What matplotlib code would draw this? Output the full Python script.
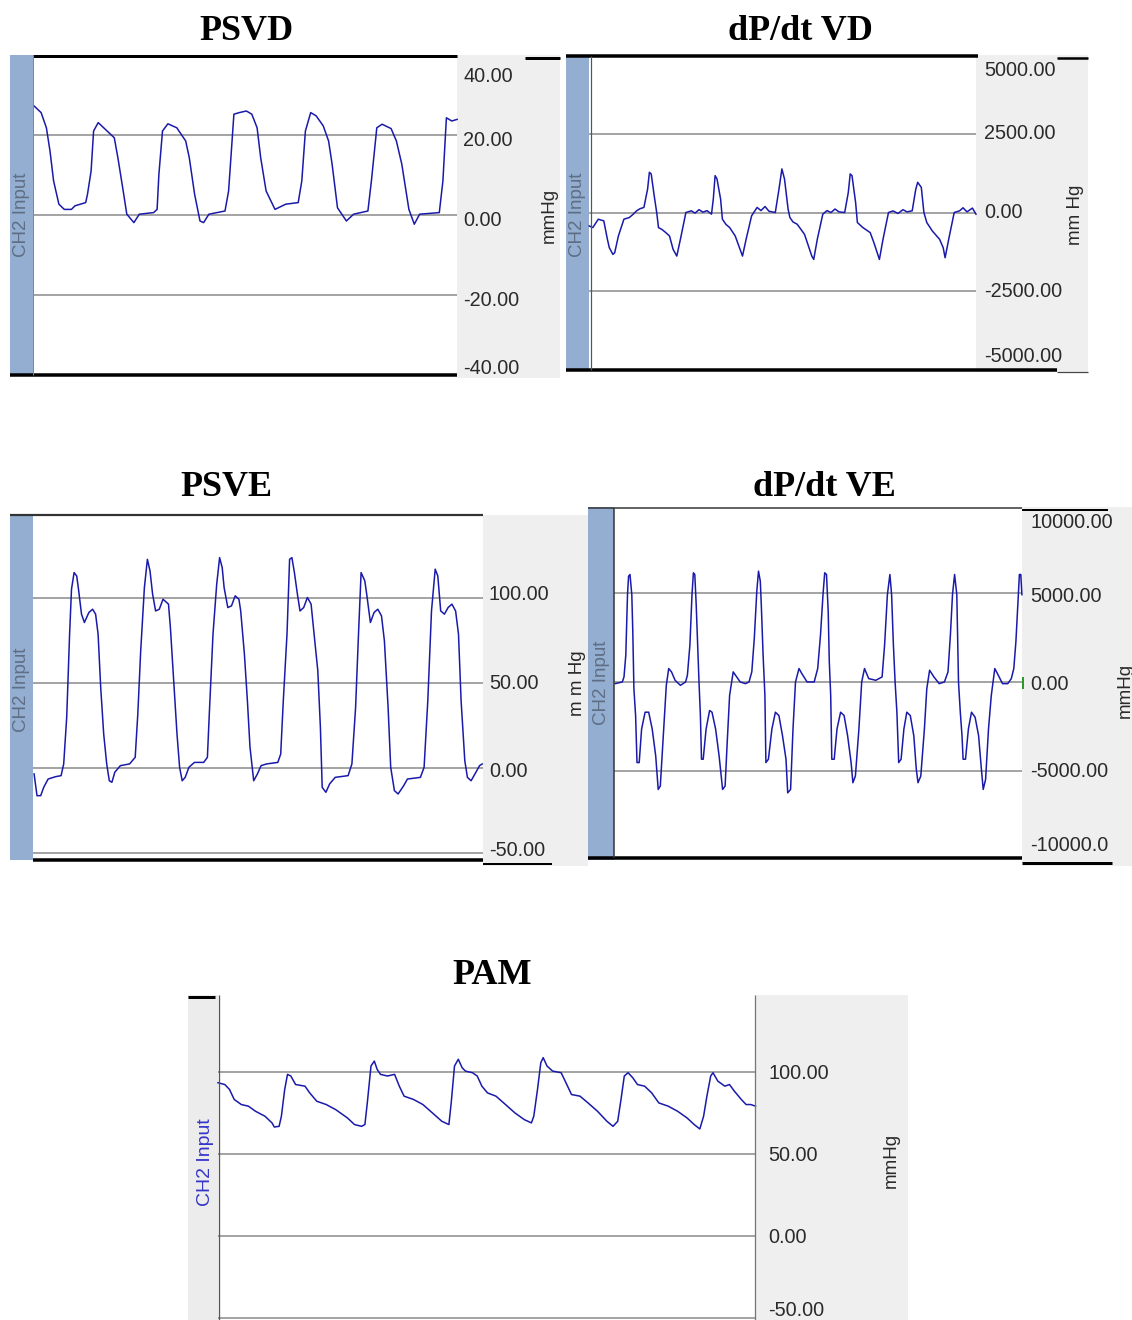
import numpy as np
import matplotlib
matplotlib.use('Agg')
import matplotlib.pyplot as plt
from matplotlib.patches import Rectangle
from matplotlib.lines import Line2D
from matplotlib import transforms as mtransforms

# ---------------- DATA ----------------
panel_titles = ["PSVD", "dP/dt VD", "PSVE", "dP/dt VE", "PAM"]
channel_label = "CH2 Input"

# PSVD (mmHg), time in samples
t_psvd = [0.9, 8.1, 13.4, 17, 20.6, 25.9, 31.3, 38.4, 42, 52.7, 54.5, 58.1, 60.6, 65.2, 74.1, 81.3, 84.9,
          90.2, 93.8, 100.9, 106.3, 120.6, 124.1, 125.9, 129.5, 134.9, 143.8, 152.7, 156.3, 161.6, 167,
          170.6, 175.9, 192, 195.6, 200.9, 206.3, 213.4, 218.8, 224.1, 227.7, 233.1, 242, 252.7, 265.2,
          268.8, 272.4, 277.7, 283.1, 290.2, 295.6, 299.1, 304.5, 313.4, 320.6, 334.9, 338.4, 343.8,
          349.1, 358.1, 363.4, 368.8, 375.9, 381.3, 386.6, 406.3, 409.9, 413.4, 418.8, 424.1]
v_psvd = [27.3, 25.6, 21.8, 16, 8.5, 2.7, 1.4, 1.4, 2.3, 3.1, 5.2, 11, 21, 23.1, 21, 19.3, 14.3,
          6, 0.2, -1.9, 0.2, 0.6, 1.4, 10.2, 21, 22.8, 21.8, 18.5, 14.3, 5.2, -1.5,
          -1.9, 0.2, 1, 6, 25.2, 25.6, 26, 25.2, 21.8, 14.3, 6, 1.4, 2.7, 3.1,
          8.5, 21, 25.6, 24.8, 22.3, 18.5, 12.7, 1.8, -1.5, 0.2, 1, 8.5, 21.8,
          22.7, 21.6, 18.5, 12.7, 1.4, -2.3, 0.2, 0.6, 8.5, 24.3, 23.5, 23.9]
ticks_psvd = [40, 20, 0, -20, -40]
ticklabels_psvd = ["40.00", "20.00", "0.00", "-20.00", "-40.00"]

# dP/dt VD (mmHg/s)
t_dpvd = [0.2, 3.8, 9.3, 14.8, 18.4, 20.3, 23.9, 25.7, 29.4, 34.9, 40.3, 44, 47.6, 51, 54.9, 58.6, 60.4,
          62.2, 65.2, 67.7, 69.5, 73, 76.8, 80.5, 84.1, 87.8, 91.4, 96.9, 102.4, 106, 110, 114, 118,
          122.5, 124.3, 126.1, 128, 131.6, 133.4, 137, 140.7, 146.2, 153.5, 157.1, 162.6, 168.1, 172,
          176, 180, 186.3, 190, 192.9, 195.5, 199.1, 200.9, 204, 208.2, 215.5, 222.8, 224.7, 228.3,
          233.8, 238, 242, 246, 250, 255.7, 259.3, 261.2, 263, 266.6, 268.4, 273.9, 281.2, 284.9,
          290.4, 294, 299.5, 304, 309, 314, 318, 323.2, 326.8, 328.7, 332.3, 334.9, 337.8, 343.3,
          350.6, 354.2, 356.1, 359.7, 365.2, 370.6, 374, 378, 383.4, 387]
v_dpvd = [-426, -479, -213, -266, -851, -1117, -1330, -1277, -745, -213, -160, -60, 53, 120, 160, 745, 1277,
          1224, 532, 0, -479, -540, -638, -745, -1170, -1383, -851, 0, 53, -20, 90, 10, 60,
          -53, 426, 1170, 1064, 426, -213, -380, -479, -745, -1383, -851, -106, 160, 60,
          190, 40, 0, 745, 1383, 1064, 106, -160, -300, -372, -692, -1383, -1490, -851,
          -53, 60, 0, 110, 20, 0, 638, 1224, 1170, 319, -319, -479, -638, -958,
          -1490, -851, 0, 50, -30, 90, 20, 53, 745, 958, 798, 0, -319, -585,
          -851, -1117, -1436, -851, 0, 53, 150, 20, 140, -53]
ticks_dpvd = [5000, 2500, 0, -2500, -5000]
ticklabels_dpvd = ["5000.00", "2500.00", "0.00", "-2500.00", "-5000.00"]

# PSVE (mmHg)
t_psve = [1.1, 4, 7.7, 10.7, 15.1, 22.6, 28.1, 30.7, 33.7, 36.6, 38.5, 41.1, 43.7, 45.5, 48.5, 51.4, 55.9,
          59.6, 62.6, 65.1, 67.7, 70.7, 73.7, 76.3, 78.9, 81.8, 87.4, 96.6, 102.2, 104.8, 107.7, 111.4,
          114.4, 117, 119.6, 122.6, 126.3, 130, 135.5, 137.4, 141.1, 144, 146.6, 149.2, 152.2, 155.9,
          161.4, 170.7, 174.4, 176.3, 180, 183.7, 186.6, 189.2, 191.1, 194.8, 198.5, 202.2, 205.9,
          207.7, 211.4, 214.4, 217, 220.7, 224.4, 228.1, 233.7, 244.8, 247.7, 250.3, 254, 256.6,
          258.9, 261.4, 264.4, 267, 270.7, 274.4, 278.1, 281.1, 284.8, 287.4, 289.2, 292.9, 296.6,
          302.2, 315.1, 318.9, 322.6, 325.5, 328.1, 331.8, 333.7, 337.4, 341.1, 344.8, 348.5, 351.4,
          355.1, 357.7, 361.4, 365.1, 370.7, 374.4, 387.4, 391.1, 394.8, 398.5, 402.2, 404.8, 407.7,
          411.4, 415.1, 418.9, 422.6, 425.5, 428.1, 431.8, 434.4, 438.1, 442.9, 446.6, 449.2]
v_psve = [-3.5, -16.3, -16.3, -11.4, -6.5, -5.1, -4.5, 2.4, 29.8, 78.8, 105.3, 115.1, 113.1, 105.3, 90.6, 85.7, 91.6,
          93.5, 90.6, 78.8, 47.5, 20, 2.4, -7.5, -8.4, -2.5, 1.4, 2.4, 6.3, 31.8, 69, 106.3,
          122.9, 116.1, 102.4, 92.5, 93.5, 99.4, 96.5, 82.7, 47.5, 20, 0.4, -7.5, -5.5, 0.4,
          3.3, 3.3, 6.3, 31.8, 78.8, 108.2, 123.9, 118, 106.3, 94.5, 95.5, 101.4, 99.4,
          92.5, 67.1, 39.6, 12.2, -7.5, -3.5, 1.4, 2.4, 3.3, 8.2, 39.6, 78.8, 122.9,
          123.9, 115.1, 102.4, 92.5, 94.5, 100.4, 96.5, 78.8, 57.3, 23.9, -11.4, -14.3, -9.4,
          -5.5, -4.5, 2.4, 35.7, 78.8, 115.1, 110.2, 102.4, 85.7, 91.6, 93.5, 89.6, 74.9,
          35.7, 0.4, -13.3, -15.3, -10.4, -6.5, -5.5, 0.4, 39.6, 92.5, 117.1, 113.1, 92.5,
          90.6, 94.5, 96.5, 92.5, 78.8, 39.6, 4.3, -5.5, -7.5, -2.5, 1.4, 2.4]
ticks_psve = [100, 50, 0, -50]
ticklabels_psve = ["100.00", "50.00", "0.00", "-50.00"]

# dP/dt VE (mmHg/s)
t_dpve = [1.2, 8.3, 10, 11.8, 13.5, 14.6, 16, 17.8, 18.8, 19.9, 21.6, 23, 25.2, 27.6, 31.1, 34.7, 38.2,
          41.7, 44.2, 46.3, 48.7, 52.3, 54.7, 57.5, 61.1, 66.4, 71.6, 73.4, 75.9, 78, 79.4, 80.8, 82.2,
          84, 85, 86.4, 87.5, 89.2, 92.1, 95.6, 98, 101.6, 105.1, 108.6, 111.1, 113.2, 115.6, 119.2,
          122.7, 126.2, 131.5, 135, 137.8, 140.3, 142.8, 144.5, 146.3, 147.3, 149.1, 150.9, 151.9,
          154.4, 157.9, 161.4, 164.9, 168.5, 172, 173.7, 176.6, 179, 181.5, 185, 187.8, 193.1, 200.2,
          203.7, 206.5, 209, 210.7, 212.5, 214.2, 215.3, 216.7, 217.8, 220.2, 223, 226.6, 230.1,
          233.6, 237.1, 238.9, 241.4, 244.9, 247.7, 250.5, 254.7, 261.8, 268.1, 270.6, 273.4, 275.9,
          277.6, 279.4, 281.1, 282.9, 284.7, 287.1, 289.9, 292.8, 296.3, 299.8, 302.3, 304, 306.8,
          310.4, 312.8, 315.6, 319.9, 325.2, 330.4, 334, 336.4, 338.5, 340.6, 342.8, 344.5, 346.3,
          348, 349.1, 351.5, 354.4, 357.5, 361.1, 364.6, 367.4, 369.2, 371.6, 374.5, 377.3, 380.8,
          384.3, 388.5, 393.8, 397.3, 399.8, 401.9, 404, 405.4, 406.8, 407.9]
v_dpve = [-94, 0, 283, 1510, 4906, 5944, 6038, 4906, 2830, -377, -1887, -4529, -4529, -2642, -1698, -1698, -2642,
          -4151, -6038, -5850, -3585, -189, 755, 566, 94, -189, 0, 377, 2076, 4906, 6133, 6038, 4340,
          1510, 0, -1887, -4340, -4340, -2642, -1604, -1698, -2642, -4151, -6038, -5850, -3397, -755, 566,
          283, 0, -94, 0, 566, 2453, 5095, 6227, 5661, 4340, 1510, -755, -4529,
          -4340, -2642, -1698, -1887, -3019, -4340, -6227, -6038, -2642, 0, 755, 472, 0, 0,
          755, 2642, 4906, 6133, 6038, 3963, 1132, -755, -4340, -4340, -2642, -1698, -1887,
          -3019, -4529, -5661, -5284, -2642, 0, 755, 189, 94, 283, 2076, 4906, 6038,
          4906, 2076, 0, -1698, -4529, -4340, -2642, -1698, -1887, -3019, -4906, -5661, -5284,
          -2642, -377, 660, 283, -94, 0, 566, 2642, 4906, 6038, 4906, 0, -1698,
          -3019, -4340, -4340, -2642, -1698, -1981, -3019, -4906, -6038, -5472, -2642, -755, 755,
          377, -94, -94, 189, 755, 2264, 4529, 6038, 6038, 4906]
ticks_dpve = [10000, 5000, 0, -5000, -10000]
ticklabels_dpve = ["10000.00", "5000.00", "0.00", "-5000.00", "-10000.0"]

# PAM (mmHg)
t_pam = [0, 6.8, 11.5, 16.2, 23.3, 30.4, 37.5, 46.9, 54, 56.3, 61.1, 63.4, 66.7, 69.5, 72.8, 77.6, 87,
         91.7, 98.8, 108.2, 117.7, 129.5, 136.5, 143.6, 146.9, 149.3, 153, 156.3, 159.2, 162.5, 169.5,
         176.6, 181.3, 186.1, 195.5, 204.9, 214.4, 223.8, 230.9, 233.2, 236.5, 240.3, 244.1, 247.4,
         254.5, 259.2, 263.9, 269.5, 278, 287.5, 296.9, 306.3, 313.4, 315.8, 319.5, 322.8, 325.2, 329,
         334.6, 343.1, 346.4, 353.5, 362, 370, 379.5, 388.9, 395, 399.7, 403, 406.3, 410.1, 414.8,
         419.5, 426.6, 433.7, 440.8, 450.2, 459.6, 469.1, 476.2, 481.8, 485.6, 488.9, 492.7, 495,
         499.8, 506.8, 511.5, 516.3, 523.3, 528.1, 532.8, 537.5]
v_pam = [93.5, 92.4, 89.4, 83.3, 80.2, 79.2, 76.1, 73.1, 69, 66.5, 66.9, 73.1, 89.4, 98.6, 97.6, 92.4, 91.4,
         87.3, 82.2, 80.2, 77.1, 72, 68, 66.9, 68, 81.2, 103.7, 106.7, 101.6, 98.6, 97.6,
         98.6, 91.4, 85.3, 83.3, 80.2, 75.1, 70, 68, 81.2, 103.7, 107.8, 102.7, 100.6,
         99.6, 97.6, 91.4, 87.3, 85.3, 80.2, 75.1, 71, 69, 73.1, 89.4, 105.7, 108.8, 103.7,
         100.6, 99.6, 95.5, 86.3, 85.3, 81.2, 76.1, 70, 66.9, 70, 83.3, 97.6, 99.6, 96.5,
         92.4, 91.4, 87.3, 81.2, 79.2, 76.1, 72, 68, 65.3, 73.1, 85.3, 97.6, 99.6,
         94.5, 91.4, 92.4, 88.4, 83.3, 80.2, 80.2, 79.2]
ticks_pam = [100, 50, 0, -50]
ticklabels_pam = ["100.00", "50.00", "0.00", "-50.00"]

# ---------------- FIGURE ----------------
W, H = 1132, 1320
DPI = 100
fig = plt.figure(figsize=(W / DPI, H / DPI), dpi=DPI)
fig.patch.set_facecolor('white')

TRACE = '#1a1aaa'
STRIP = '#93aed1'
PANEL = '#efefef'
GRID = '#8a8a8a'
LABEL = '#2a2a2a'
SANS = ['Liberation Sans', 'DejaVu Sans']
SERIF = ['Liberation Serif', 'DejaVu Serif']
TICK_FS = 14.3


def fx(x):
    return x / W


def fy(y):
    return 1 - y / H


def rect(x0, y0, x1, y1, color, z=-1):
    fig.add_artist(Rectangle((fx(x0), fy(y1)), (x1 - x0) / W, (y1 - y0) / H,
                             transform=fig.transFigure, facecolor=color,
                             edgecolor='none', zorder=z))


def hline(x0, x1, y, lw_px, color='black', z=5):
    fig.add_artist(Line2D([fx(x0), fx(x1)], [fy(y), fy(y)], transform=fig.transFigure,
                          color=color, linewidth=lw_px * 72 / DPI, zorder=z,
                          solid_capstyle='butt'))


def vline(x, y0, y1, lw_px, color='black', z=5):
    fig.add_artist(Line2D([fx(x), fx(x)], [fy(y0), fy(y1)], transform=fig.transFigure,
                          color=color, linewidth=lw_px * 72 / DPI, zorder=z,
                          solid_capstyle='butt'))


def ftext(x, y, s, **kw):
    fig.text(fx(x), fy(y), s, zorder=6, **kw)


def make_panel(box, t, v, ylim, grid_vals, ticks, labels, label_dx, label_dy,
               title, title_xy):
    x0, y0, x1, y1 = box
    ax = fig.add_axes([fx(x0), fy(y1), (x1 - x0) / W, (y1 - y0) / H])
    ax.set_facecolor('white')
    ax.set_xlim(0, x1 - x0)
    ax.set_ylim(*ylim)
    for s in ax.spines.values():
        s.set_visible(False)
    ax.set_xticks([])
    ax.set_yticks([])
    for g in grid_vals:
        ax.axhline(g, color=GRID, lw=1.1, zorder=1)
    ax.plot(t, v, color=TRACE, lw=1.1, zorder=3, clip_on=False)
    base = mtransforms.blended_transform_factory(ax.transAxes, ax.transData)
    for tk, lab, dy in zip(ticks, labels, label_dy):
        tr = base + mtransforms.ScaledTranslation(label_dx / DPI, -dy / DPI, fig.dpi_scale_trans)
        ax.text(1.0, tk, lab, transform=tr, ha='left', va='center', fontsize=TICK_FS,
                color=LABEL, family=SANS, clip_on=False)
    ftext(title_xy[0], title_xy[1], title, ha='center', va='center', fontsize=26,
          fontweight='bold', family=SERIF, color='black')
    return ax


# ---------- Panel 1: PSVD ----------
rect(10, 55, 33, 376, STRIP)
rect(457, 55, 560, 378, PANEL)
ax1 = make_panel((33, 55, 457, 375), t_psvd, v_psvd, (-40, 40), [20, 0, -20],
                 ticks_psvd, ticklabels_psvd, 6, [21, 6, 6, 5, -6], panel_titles[0], (246, 32))
hline(33, 457, 56, 3)
hline(10, 457, 375, 3.5)
hline(525, 560, 58, 3)
vline(33, 56, 375, 1, '#7a8aa0')
ftext(21, 215, channel_label, rotation=90, ha='center', va='center', fontsize=13.5,
      color='#5f6e84', family=SANS)
ftext(549, 215, "mmHg", rotation=90, ha='center', va='center', fontsize=13.5,
      color=LABEL, family=SANS)

# ---------- Panel 2: dP/dt VD ----------
rect(566, 55, 589, 371, STRIP)
rect(976, 55, 1088, 372, PANEL)
ax2 = make_panel((589, 55, 976, 370), t_dpvd, v_dpvd, (-5000, 5000), [2500, 0, -2500],
                 ticks_dpvd, ticklabels_dpvd, 8, [16, 0, 0, 0, -14], panel_titles[1], (800, 32))
hline(566, 978, 56, 3.5)
hline(1057, 1088, 58, 2.5)
hline(566, 1057, 370, 3.5)
hline(1057, 1088, 372, 1.2, '#444444')
vline(591, 56, 370, 1.2, '#555555')
ftext(577, 215, channel_label, rotation=90, ha='center', va='center', fontsize=13.5,
      color='#5f6e84', family=SANS)
ftext(1076, 215, "mm Hg", rotation=90, ha='center', va='center', fontsize=13.5,
      color=LABEL, family=SANS)

# ---------- Panel 3: PSVE ----------
rect(10, 515, 33, 860, STRIP)
rect(483, 515, 588, 866, PANEL)
ax3 = make_panel((33, 515, 483, 858), t_psve, v_psve, (-53, 149), [100, 50, 0, -50],
                 ticks_psve, ticklabels_psve, 6, [-4, 0, 3, -2], panel_titles[2], (226, 487))
hline(10, 483, 515, 2.2, '#333333')
hline(33, 483, 860, 3.5)
hline(483, 552, 864, 2)
ftext(21, 690, channel_label, rotation=90, ha='center', va='center', fontsize=13.5,
      color='#5f6e84', family=SANS)
ftext(577, 683, "m m Hg", rotation=90, ha='center', va='center', fontsize=13.5,
      color=LABEL, family=SANS)

# ---------- Panel 4: dP/dt VE ----------
rect(588, 507, 614, 860, STRIP)
rect(1022, 507, 1132, 866, PANEL)
ax4 = make_panel((614, 507, 1022, 858), t_dpve, v_dpve, (-9890, 9830), [5000, 0, -5000],
                 ticks_dpve, ticklabels_dpve, 8, [19, 4, 3, 1, -14], panel_titles[3], (824, 487))
hline(588, 1022, 508, 1.5, '#333333')
hline(1022, 1108, 510, 2)
hline(588, 1022, 858, 3.5)
hline(1022, 1112, 863, 3)
vline(614, 508, 858, 1.5, '#333333')
vline(1023, 677, 689, 2, '#2a9a2a')
ftext(601, 683, channel_label, rotation=90, ha='center', va='center', fontsize=13.5,
      color='#5f6e84', family=SANS)
ftext(1125, 690, "mmHg", rotation=90, ha='center', va='center', fontsize=13.5,
      color=LABEL, family=SANS)

# ---------- Panel 5: PAM ----------
rect(188, 995, 218, 1320, '#ececec')
rect(755, 995, 908, 1320, PANEL)
ax5 = make_panel((218, 995, 755, 1320), t_pam, v_pam, (-51.2, 147), [100, 50, 0, -50],
                 ticks_pam, ticklabels_pam, 13, [1, 1, 1, -8], panel_titles[4], (492, 975))
hline(188, 215, 997, 3)
vline(219, 995, 1320, 1.3, '#555555')
vline(755, 995, 1320, 1.3, '#777777')
ftext(205, 1162, channel_label, rotation=90, ha='center', va='center', fontsize=14,
      color='#3535c8', family=SANS)
ftext(891, 1160, "mmHg", rotation=90, ha='center', va='center', fontsize=13.5,
      color=LABEL, family=SANS)

fig.savefig('out.png', dpi=DPI, facecolor='white')
